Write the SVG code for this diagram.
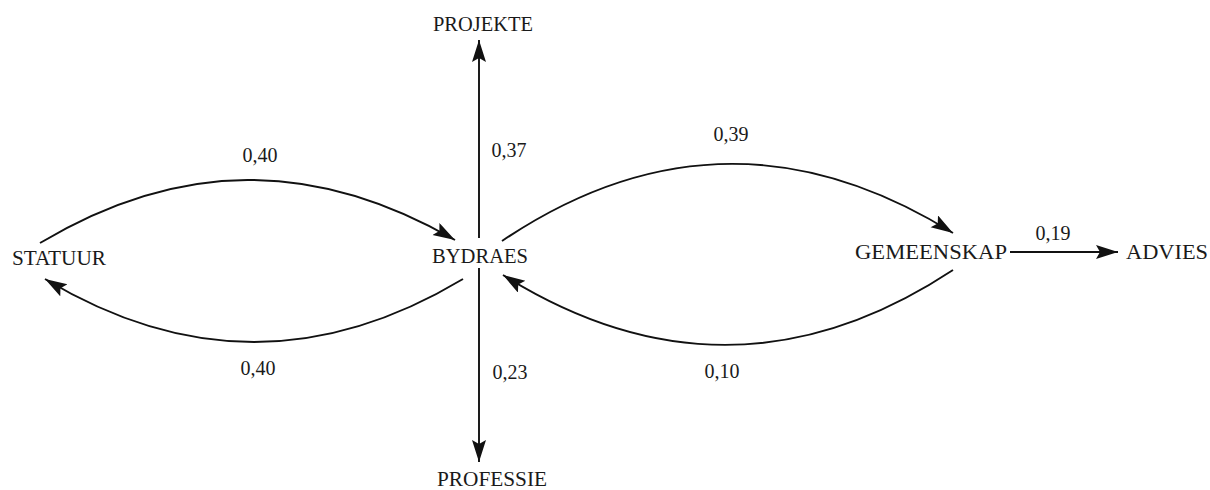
<svg xmlns="http://www.w3.org/2000/svg" width="1210" height="490" viewBox="0 0 1210 490">
<style>
.n{font-family:"Liberation Serif",serif;font-size:20px;fill:#1a1a1a;text-anchor:middle}
.l{font-family:"Liberation Serif",serif;font-size:20px;fill:#1a1a1a;text-anchor:middle}
.c{fill:none;stroke:#111;stroke-width:1.9}
</style>
<defs>
<marker id="ah" markerUnits="userSpaceOnUse" markerWidth="24" markerHeight="16" refX="22" refY="7" orient="auto">
<path d="M0,0 L22,7 L0,14 L4,7 z" fill="#111"/>
</marker>
</defs>
<rect width="1210" height="490" fill="#fff"/>
<g id="connectors">
<path class="c" d="M40,243 C180,159.5 315,159.5 455,240" marker-end="url(#ah)"/>
<path class="c" d="M463,279 C323,363 185,363 45,279" marker-end="url(#ah)"/>
<path class="c" d="M502,241 C652,139.7 803,139.7 953,233" marker-end="url(#ah)"/>
<path class="c" d="M953,270 C803,369 653,369 503,275" marker-end="url(#ah)"/>
<path class="c" d="M479,238 L479,40" marker-end="url(#ah)"/>
<path class="c" d="M479,268 L479,462" marker-end="url(#ah)"/>
<path class="c" d="M1010,252 L1118,252" marker-end="url(#ah)"/>
<text class="l" x="260" y="162">0,40</text>
<text class="l" x="258" y="375">0,40</text>
<text class="l" x="509" y="157">0,37</text>
<text class="l" x="510" y="379">0,23</text>
<text class="l" x="731" y="141">0,39</text>
<text class="l" x="722" y="378">0,10</text>
<text class="l" x="1053" y="240">0,19</text>
</g>
<g id="node-projekte"><text class="n" x="483" y="31" textLength="100" lengthAdjust="spacingAndGlyphs">PROJEKTE</text></g>
<g id="node-statuur"><text class="n" x="59" y="265" textLength="94" lengthAdjust="spacingAndGlyphs">STATUUR</text></g>
<g id="node-bydraes"><text class="n" x="480" y="263" textLength="96" lengthAdjust="spacingAndGlyphs">BYDRAES</text></g>
<g id="node-gemeenskap"><text class="n" x="931" y="259" textLength="152" lengthAdjust="spacingAndGlyphs">GEMEENSKAP</text></g>
<g id="node-advies"><text class="n" x="1167" y="259" textLength="82" lengthAdjust="spacingAndGlyphs">ADVIES</text></g>
<g id="node-professie"><text class="n" x="492" y="486" textLength="110" lengthAdjust="spacingAndGlyphs">PROFESSIE</text></g>
</svg>
